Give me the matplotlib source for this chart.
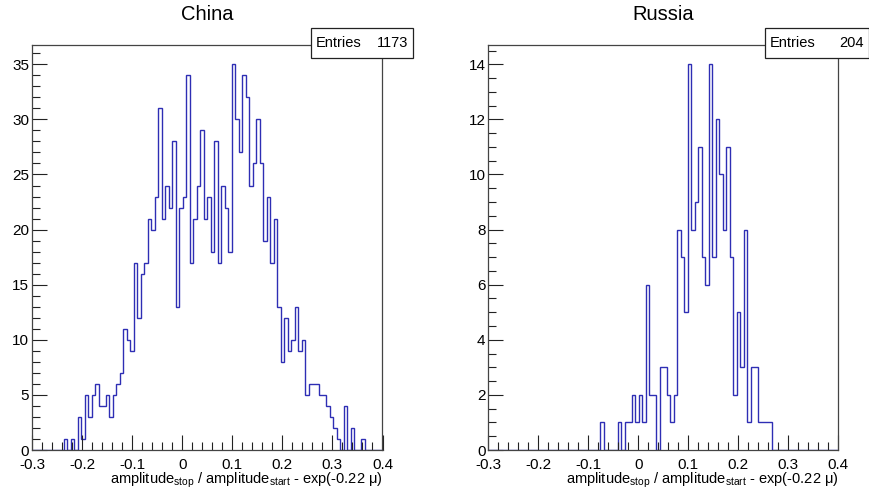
import matplotlib
matplotlib.use("Agg")
import matplotlib.pyplot as plt
from matplotlib.patches import Rectangle
from matplotlib.ticker import MultipleLocator
import numpy as np

plt.rcParams['font.family'] = ['Liberation Sans', 'DejaVu Sans']
plt.rcParams['mathtext.fontset'] = 'custom'
plt.rcParams['mathtext.rm'] = 'Liberation Sans'
plt.rcParams['mathtext.it'] = 'Liberation Sans:italic'

# histogram binning: 100 bins from -0.3 to 0.4
x_min, x_max, n_bins = -0.3, 0.4, 100

titles = ["China", "Russia"]
entries = [1173, 204]

china_counts = [
    0, 0, 0, 0, 0, 0, 0, 0, 0, 1,
    0, 1, 0, 3, 1, 5, 3, 5, 6, 4,
    4, 5, 3, 5, 6, 7, 11, 10, 9, 17,
    12, 16, 17, 21, 20, 23, 31, 21, 24, 22,
    28, 13, 22, 23, 34, 17, 21, 24, 29, 21,
    23, 18, 28, 17, 24, 22, 18, 35, 30, 27,
    34, 32, 24, 26, 30, 26, 19, 23, 17, 21,
    13, 8, 12, 9, 10, 13, 9, 10, 5, 6,
    6, 6, 5, 5, 4, 3, 2, 1, 0, 4,
    0, 2, 0, 0, 1, 0, 0, 0, 0, 0,
]

russia_counts = [
    0, 0, 0, 0, 0, 0, 0, 0, 0, 0,
    0, 0, 0, 0, 0, 0, 0, 0, 0, 0,
    0, 0, 0, 0, 0, 0, 0, 0, 0, 0,
    0, 0, 1, 0, 0, 0, 0, 1, 0, 1,
    1, 2, 1, 2, 1, 6, 2, 2, 0, 3,
    3, 2, 1, 2, 8, 7, 5, 14, 8, 9,
    11, 7, 6, 14, 7, 12, 10, 8, 11, 7,
    2, 5, 3, 8, 1, 3, 3, 1, 1, 1,
    1, 0, 0, 0, 0, 0, 0, 0, 0, 0,
    0, 0, 0, 0, 0, 0, 0, 0, 0, 0,
]

xlabel = (r'amplitude$_{\mathregular{stop}}$ / amplitude$_{\mathregular{start}}$'
          ' - exp(-0.22 \u03bc)')

W, H = 870, 492
fig = plt.figure(figsize=(W / 100, H / 100), dpi=100)


def draw_panel(left_px, right_px, counts, title, n_entries, y_major, y_minor, box_px):
    """draws one ROOT-style histogram panel at the given pixel position"""
    top_px, bottom_px = 45, 450
    ax = fig.add_axes([left_px / W, 1 - bottom_px / H,
                       (right_px - left_px) / W, (bottom_px - top_px) / H])

    edges = np.linspace(x_min, x_max, n_bins + 1)
    ax.stairs(counts, edges, color='#2e2eb4', linewidth=1.0, baseline=0)

    ax.set_xlim(x_min, x_max)
    ax.set_ylim(0, max(counts) * 1.05)

    ax.xaxis.set_major_locator(MultipleLocator(0.1))
    ax.xaxis.set_minor_locator(MultipleLocator(0.02))
    ax.yaxis.set_major_locator(MultipleLocator(y_major))
    ax.yaxis.set_minor_locator(MultipleLocator(y_minor))
    ax.xaxis.set_major_formatter(lambda v, pos: f"{v:g}" if abs(v) > 1e-9 else "0")

    ax.tick_params(which='both', direction='in', top=False, right=False,
                   labelsize=11, color='#222222')
    ax.tick_params(which='major', length=11, width=0.8)
    ax.tick_params(which='minor', length=6, width=0.8)
    ax.tick_params(axis='x', pad=6)
    ax.tick_params(axis='y', pad=2)

    for sp in ax.spines.values():
        sp.set_color('#444444')
        sp.set_linewidth(0.9)

    ax.set_xlabel(xlabel, loc='right', fontsize=10.5, labelpad=-1)

    fig.text((left_px + right_px) / 2 / W, 1 - 14 / H, title,
             ha='center', va='center', fontsize=14.5)

    # stats box
    bx0, by0, bx1, by1 = box_px
    fig.patches.append(Rectangle((bx0 / W, 1 - by1 / H), (bx1 - bx0) / W, (by1 - by0) / H,
                                 transform=fig.transFigure, facecolor='white',
                                 edgecolor='#222222', linewidth=0.9, zorder=5))
    yc = 1 - (by0 + by1) / 2 / H
    fig.text((bx0 + 5) / W, yc, "Entries", ha='left', va='center', fontsize=10.5, zorder=6)
    fig.text((bx1 - 5) / W, yc, f"{n_entries}", ha='right', va='center', fontsize=10.5, zorder=6)
    return ax


draw_panel(32, 382.5, china_counts, titles[0], entries[0], 5, 1, (311, 28, 413, 58))
draw_panel(488.3, 838.3, russia_counts, titles[1], entries[1], 2, 0.5, (765, 28, 869, 58))

plt.savefig('out.png', dpi=100)
